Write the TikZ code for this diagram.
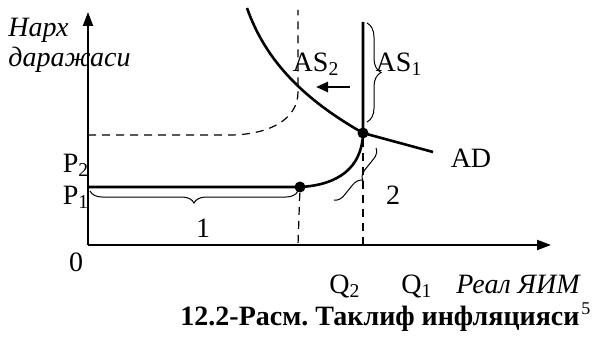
\documentclass[tikz,border=0pt]{standalone}
\usepackage{fontspec}
\setmainfont{Liberation Serif}
\usetikzlibrary{positioning, arrows.meta, decorations.pathreplacing}
\frenchspacing

\tikzset{
  dot/.style={circle, fill=black, inner sep=0pt, minimum size=5.5pt},
  guide/.style={dashed, line width=0.6pt, dash pattern=on 4pt off 3pt},
  curve/.style={line width=1.3pt},
  axis/.style={line width=1pt, -{Triangle[length=7pt, width=5pt]}},
  brc/.style={decorate, line width=0.5pt}
}

\begin{document}
\begin{tikzpicture}[x=0.5pt, y=-0.5pt, font=\fontsize{14}{15}\selectfont, inner sep=1pt]
  \useasboundingbox (0,0) rectangle (605,342);

  % axes
  \coordinate (o) at (88,245);
  \coordinate (ytip) at (88,12);
  \coordinate (xtip) at (551,245);
  \draw[axis] (o) -- (ytip);
  \draw[axis] (o) -- (xtip);

  % points
  \node[dot] (k1) at (300,187) {};
  \node[dot] (k2) at (363,133) {};
  \coordinate (p1left) at (88,187);
  \coordinate (as1top) at (363,22);
  \coordinate (q2foot) at (298,245);
  \coordinate (q1foot) at (363,245);

  % AS1
  \draw[curve] (p1left) -- (k1.center)
    .. controls (338,185) and (362,168) .. (k2.center) -- (as1top);

  % AS2 (shifted)
  \coordinate (p2left) at (88,135);
  \coordinate (as2top) at (298,10);
  \draw[guide] (p2left) -- (232,135)
    .. controls (272,134) and (298,118) .. (298,92) -- (as2top);

  % AD
  \coordinate (adtop) at (247,8);
  \coordinate (adend) at (433,152);
  \draw[curve] (adtop) .. controls (266,62) and (305,100) .. (k2.center) -- (adend);

  % drop lines
  \draw[guide] (k1) -- (q2foot);
  \draw[guide] (k2) -- (q1foot);

  % shift arrow
  \coordinate (shiftA) at (350,87);
  \coordinate (shiftB) at (316,87);
  \draw[line width=1.2pt, -{Triangle[length=6pt, width=5pt]}] (shiftA) -- (shiftB);

  % braces
  \draw[brc, decoration={brace, amplitude=6pt}] (298,191) -- (90,191);
  \draw[brc, decoration={brace, amplitude=7pt}] (367,23) -- (367,122);
  \draw[brc, decoration={brace, amplitude=5pt}] (376,148) -- (334,200);

  % labels
  \node[align=left, anchor=north west, inner sep=0pt] (ylab) at (8,18)
    {\itshape Нарх\\\itshape даражаси};
  \node (p2) at (76,165) {P\textsubscript{2}};
  \node (p1) at (76,197) {P\textsubscript{1}};
  \node (zero) at (76,262) {0};
  \node (one) at (203,228) {1};
  \node (two) at (393,195) {2};
  \node (as2) at (316,64) {AS\textsubscript{2}};
  \node (as1) at (399,64) {AS\textsubscript{1}};
  \node (ad) at (471,158) {AD};
  \node[anchor=base, inner sep=0pt] (q2) at (345,293) {Q\textsubscript{2}};
  \node[anchor=base, inner sep=0pt] (q1) at (417,293) {Q\textsubscript{1}};
  \node[anchor=base, inner sep=0pt] (xlab) at (518,293) {\itshape Реал ЯИМ};
  \node[anchor=base, inner sep=0pt] (cap) at (380,325)
    {\bfseries 12.2-Расм. Таклиф инфляцияси};
  \node[anchor=north west, inner sep=0pt, font=\fontsize{9}{10}\selectfont]
    (capnote) at ([xshift=0.5pt, yshift=1.5pt]cap.north east) {5};
\end{tikzpicture}
\end{document}
